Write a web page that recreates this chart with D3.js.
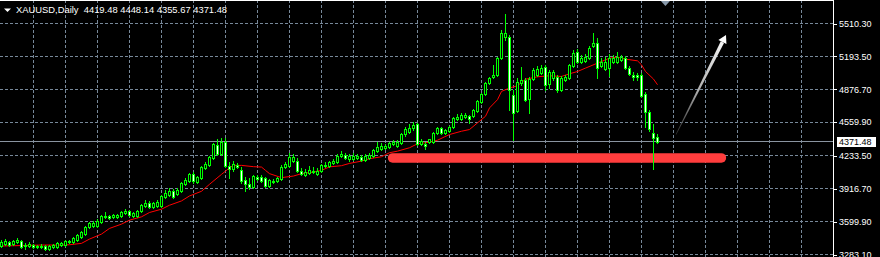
<!DOCTYPE html>
<html>
<head>
<meta charset="utf-8">
<title>XAUUSD Daily</title>
<script src="https://d3js.org/d3.v7.min.js"></script>
<style>
  body { margin: 0; background: #000; }
  svg { display: block; }
</style>
</head>
<body>
<script>

var width = 880, height = 257;
var plotRight = 833;   // price axis line

// daily bars, oldest first (prices)
var opens = [3364.7,3383.9,3403.1,3383.9,3403.1,3412.7,3364.7,3364.7,3374.3,3355.1,3364.7,3364.7,3335.9,3355.1,3355.1,3374.3,3374.3,3403.1,3403.1,3422.3,
  3451.1,3479.9,3547.1,3556.7,3556.7,3595.1,3643.1,3652.7,3643.1,3643.1,3652.7,3681.5,3700.7,3652.7,3652.7,3700.7,3748.7,3777.5,3739.1,3748.7,
  3748.7,3835.1,3854.3,3892.7,3863.9,3892.7,3959.9,3988.7,4055.9,3979.1,4017.5,4113.5,4142.3,4209.5,4334.3,4247.9,4363.1,4132.7,4103.9,4142.3,
  4094.3,3998.3,3959.9,3931.1,4027.1,4027.1,4017.5,3940.7,3988.7,3988.7,4007.9,4123.1,4132.7,4180.7,4180.7,4084.7,4046.3,4065.5,4075.1,4055.9,
  4084.7,4132.7,4132.7,4161.5,4171.1,4228.7,4238.3,4199.9,4199.9,4209.5,4219.1,4190.3,4209.5,4228.7,4276.7,4295.9,4305.5,4315.1,4343.9,4324.7,
  4353.5,4449.5,4468.7,4507.1,4545.5,4343.9,4343.9,4363.1,4363.1,4459.1,4507.1,4459.1,4478.3,4516.7,4593.5,4593.5,4612.7,4622.3,4622.3,4670.3,
  4756.7,4833.5,4939.1,4996.7,5015.9,5179.1,5380.7,5380.7,4823.9,4670.3,4939.1,4967.9,4785.5,4977.5,5015.9,5035.1,5092.7,4929.5,4987.1,4996.7,
  4871.9,4967.9,4987.1,5102.3,5236.7,5140.7,5150.3,5179.1,5294.3,5323.1,5102.3,5073.5,5083.1,5140.7,5140.7,5159.9,5179.1,5083.1,5015.9,5015.9,
  5015.9,4833.5,4660.7,4459.1,4419.48];
var highs = [3422.3,3431.9,3412.7,3422.3,3441.5,3422.3,3393.5,3403.1,3383.9,3374.3,3383.9,3374.3,3374.3,3383.9,3403.1,3403.1,3422.3,3422.3,3451.1,3479.9,
  3508.7,3556.7,3595.1,3604.7,3623.9,3662.3,3691.1,3662.3,3671.9,3671.9,3700.7,3719.9,3710.3,3691.1,3710.3,3767.9,3806.3,3796.7,3787.1,3806.3,
  3854.3,3902.3,3921.5,3911.9,3921.5,3979.1,4017.5,4065.5,4075.1,4036.7,4132.7,4171.1,4228.7,4353.5,4391.9,4411.1,4411.1,4171.1,4180.7,4161.5,
  4123.1,4027.1,4017.5,4046.3,4046.3,4046.3,4027.1,4007.9,4007.9,4027.1,4142.3,4171.1,4257.5,4247.9,4209.5,4113.5,4103.9,4132.7,4123.1,4113.5,
  4151.9,4171.1,4180.7,4199.9,4247.9,4276.7,4257.5,4247.9,4257.5,4247.9,4238.3,4247.9,4257.5,4295.9,4363.1,4353.5,4343.9,4363.1,4382.3,4382.3,
  4459.1,4516.7,4545.5,4564.7,4555.1,4391.9,4363.1,4401.5,4468.7,4516.7,4516.7,4497.5,4526.3,4612.7,4641.5,4651.1,4651.1,4631.9,4689.5,4775.9,
  4843.1,4948.7,4996.7,5111.9,5188.7,5447.9,5601.5,5399.9,4871.9,4987.1,5092.7,4987.1,4996.7,5083.1,5102.3,5111.9,5111.9,5063.9,5063.9,5015.9,
  5006.3,5015.9,5121.5,5255.9,5265.5,5207.9,5217.5,5294.3,5419.1,5371.1,5179.1,5188.7,5217.5,5207.9,5236.7,5207.9,5198.3,5102.3,5044.7,5035.1,
  5035.1,4852.7,4679.9,4545.5,4448.14];
var lows = [3355.1,3374.3,3364.7,3374.3,3393.5,3345.5,3335.9,3355.1,3345.5,3345.5,3345.5,3326.3,3326.3,3345.5,3345.5,3364.7,3364.7,3393.5,3393.5,3412.7,
  3441.5,3470.3,3537.5,3547.1,3547.1,3585.5,3633.5,3623.9,3633.5,3633.5,3643.1,3671.9,3652.7,3643.1,3643.1,3691.1,3739.1,3729.5,3729.5,3739.1,
  3739.1,3825.5,3844.7,3825.5,3854.3,3883.1,3950.3,3979.1,3969.5,3969.5,4007.9,4103.9,4132.7,4199.9,4238.3,4238.3,4123.1,4017.5,4084.7,4113.5,
  3969.5,3892.7,3911.9,3921.5,3998.3,3979.1,3931.1,3931.1,3969.5,3979.1,3998.3,4113.5,4123.1,4171.1,4075.1,4046.3,4036.7,4055.9,4065.5,4046.3,
  4075.1,4123.1,4123.1,4151.9,4161.5,4219.1,4199.9,4180.7,4190.3,4199.9,4180.7,4180.7,4199.9,4219.1,4267.1,4286.3,4295.9,4305.5,4334.3,4315.1,
  4343.9,4430.3,4459.1,4487.9,4334.3,4334.3,4295.9,4353.5,4353.5,4449.5,4449.5,4449.5,4468.7,4507.1,4583.9,4583.9,4603.1,4555.1,4612.7,4660.7,
  4747.1,4823.9,4929.5,4987.1,5006.3,5169.5,5351.9,4679.9,4382.3,4660.7,4919.9,4766.3,4651.1,4967.9,5006.3,5025.5,4871.9,4891.1,4967.9,4852.7,
  4862.3,4958.3,4977.5,5092.7,5131.1,5131.1,5140.7,5169.5,5284.7,4987.1,5092.7,5063.9,5006.3,5131.1,5131.1,5150.3,5073.5,5015.9,4967.9,4967.9,
  4804.7,4516.7,4478.3,4103.9,4355.67];
var closes = [3403.1,3412.7,3374.3,3412.7,3422.3,3355.1,3374.3,3383.9,3355.1,3364.7,3355.1,3335.9,3364.7,3374.3,3393.5,3393.5,3412.7,3412.7,3441.5,3470.3,
  3499.1,3547.1,3585.5,3585.5,3604.7,3652.7,3652.7,3633.5,3662.3,3662.3,3691.1,3700.7,3662.3,3681.5,3700.7,3758.3,3777.5,3739.1,3777.5,3787.1,
  3844.7,3873.5,3892.7,3835.1,3902.3,3969.5,3998.3,4055.9,3988.7,4027.1,4123.1,4151.9,4219.1,4343.9,4247.9,4363.1,4132.7,4103.9,4151.9,4123.1,
  3988.7,3959.9,3931.1,4036.7,4007.9,3988.7,3940.7,3998.3,3979.1,4017.5,4123.1,4151.9,4219.1,4219.1,4084.7,4055.9,4075.1,4094.3,4084.7,4084.7,
  4142.3,4142.3,4171.1,4180.7,4228.7,4247.9,4209.5,4228.7,4228.7,4228.7,4190.3,4228.7,4238.3,4286.3,4315.1,4324.7,4324.7,4353.5,4363.1,4363.1,
  4449.5,4497.5,4507.1,4535.9,4343.9,4372.7,4324.7,4391.9,4459.1,4507.1,4459.1,4487.9,4516.7,4603.1,4612.7,4631.9,4631.9,4593.5,4679.9,4766.3,
  4833.5,4939.1,4987.1,5015.9,5179.1,5419.1,5419.1,4871.9,4651.1,4948.7,4967.9,4775.9,4977.5,5063.9,5073.5,5083.1,4919.9,5044.7,5044.7,4871.9,
  4987.1,4996.7,5111.9,5227.1,5140.7,5179.1,5188.7,5275.1,5323.1,5083.1,5140.7,5140.7,5179.1,5179.1,5188.7,5188.7,5083.1,5025.5,4996.7,4996.7,
  4814.3,4660.7,4497.5,4411.1,4371.48];

// red moving average, read at these bar numbers
var maBars = [0,5,10,15,17,20,22,25,27,30,32,35,37,40,42,45,47,50,52,55,57,58,60,63,65,66,67,70,73,75,78,80,82,85,87,90,92,95,97,99,
  102,104,107,109,112,115,117,119,121,122,124,125,127,129,131,134,137,140,142,144,146,149,152,154,156,159,160,161,163,164];
var maValues = [3364.7,3369.5,3374.3,3374.3,3377.2,3390.6,3431.9,3479.9,3534.6,3575.9,3614.3,3646.2,3688.2,3719.9,3758.3,3799.6,3847.6,3892.7,3959.9,4055.9,
  4118.3,4142.3,4142.3,4129.8,4126.0,4094.3,4062.6,4024.2,4039.6,4062.6,4078.0,4094.3,4127.9,4139.4,4161.5,4183.6,4206.6,4225.8,4264.2,4279.6,
  4312.2,4350.6,4366.0,4385.2,4439.9,4471.6,4487.9,4552.2,4615.6,4696.2,4775.9,4855.6,4888.2,4910.3,4972.7,4996.7,5006.3,5000.0,5025.5,5047.6,
  5080.2,5128.2,5176.2,5185.8,5166.6,5150.3,5111.9,5047.6,4974.6,4919.9];

// price scale labels
var priceTicks = [5510.30, 5193.50, 4876.70, 4559.90, 4233.50, 3916.70, 3599.90, 3283.10];

// hand drawn objects: horizontal red level and white arrow
var levelBars = [97.9, 180.1], levelPrice = 4214;
var arrowBars = [168.75, 181.25], arrowPrices = [4440, 5400];
var shiftBar = 166.1;

var titleText = "XAUUSD,Daily  4419.48 4448.14 4355.67 4371.48";

var n = closes.length;
var x = d3.scaleLinear().domain([0, n - 1]).range([1, 1 + 4 * (n - 1)]);
// top and bottom labels sit on grid rows 23 and 254
var y = d3.scaleLinear().domain([5510.30, 3283.10]).range([23.5, 254.5]);

var svg = d3.select("body").append("svg")
    .attr("width", width)
    .attr("height", height)
    .style("font-family", "'Liberation Sans', Arial, sans-serif");

svg.append("rect").attr("width", width).attr("height", height).attr("fill", "#000");

// grid
var grid = svg.append("g")
    .attr("stroke", "#778899")
    .attr("stroke-dasharray", "3,2")
    .attr("shape-rendering", "crispEdges");

grid.selectAll("line.h")
    .data(priceTicks)
  .enter().append("line")
    .attr("class", "h")
    .attr("x1", 0).attr("x2", plotRight)
    .attr("y1", function(d) { return Math.floor(y(d)) + 0.5; })
    .attr("y2", function(d) { return Math.floor(y(d)) + 0.5; });

grid.selectAll("line.v")
    .data(d3.range(8, 201, 8))
  .enter().append("line")
    .attr("class", "v")
    .attr("y1", 0).attr("y2", height)
    .attr("x1", function(d) { return x(d) + 0.5; })
    .attr("x2", function(d) { return x(d) + 0.5; });

// bid line
var last = closes[n - 1];
var bidY = Math.floor(y(last)) + 0.5;
svg.append("line")
    .attr("x1", 0).attr("x2", plotRight)
    .attr("y1", bidY).attr("y2", bidY)
    .attr("stroke", "#8a94a0")
    .attr("shape-rendering", "crispEdges");

// level line
svg.append("line")
    .attr("x1", x(levelBars[0])).attr("x2", x(levelBars[1]))
    .attr("y1", y(levelPrice)).attr("y2", y(levelPrice))
    .attr("stroke", "#ff3d3d")
    .attr("stroke-width", 9.5)
    .attr("stroke-linecap", "round");

// moving average
var maLine = d3.line()
    .x(function(d, i) { return x(maBars[i]) + 0.5; })
    .y(function(d) { return y(d); });

svg.append("path")
    .datum(maValues)
    .attr("d", maLine)
    .attr("fill", "none")
    .attr("stroke", "#ff0000")
    .attr("stroke-width", 1);

// candles
var bars = svg.append("g").attr("shape-rendering", "crispEdges");
var idx = d3.range(n);

bars.selectAll("line")
    .data(idx)
  .enter().append("line")
    .attr("x1", function(i) { return Math.round(x(i)) + 0.5; })
    .attr("x2", function(i) { return Math.round(x(i)) + 0.5; })
    .attr("y1", function(i) { return Math.round(y(highs[i])); })
    .attr("y2", function(i) { return Math.round(y(lows[i])) + 1; })
    .attr("stroke", "#00ff00");

bars.selectAll("rect")
    .data(idx)
  .enter().append("rect")
    .attr("x", function(i) { return Math.round(x(i)) - 0.5; })
    .attr("width", 2)
    .attr("y", function(i) { return Math.round(y(Math.max(opens[i], closes[i]))) + 0.5; })
    .attr("height", function(i) {
      return Math.max(0.01, Math.round(y(Math.min(opens[i], closes[i]))) - Math.round(y(Math.max(opens[i], closes[i]))));
    })
    .attr("fill", function(i) { return closes[i] >= opens[i] ? "#000" : "#fff"; })
    .attr("stroke", "#00ff00");

// arrow
var p0 = [x(arrowBars[0]), y(arrowPrices[0])],
    p1 = [x(arrowBars[1]), y(arrowPrices[1])];
var dx = p1[0] - p0[0], dy = p1[1] - p0[1], len = Math.sqrt(dx * dx + dy * dy);
var ux = dx / len, uy = dy / len, nx = -uy, ny = ux;
var headLen = 8, headW = 4.5;
var base = [p1[0] - ux * headLen, p1[1] - uy * headLen];

var grad = svg.append("defs").append("linearGradient")
    .attr("id", "arrowGrad")
    .attr("gradientUnits", "userSpaceOnUse")
    .attr("x1", p0[0]).attr("y1", p0[1])
    .attr("x2", p1[0]).attr("y2", p1[1]);
grad.append("stop").attr("offset", 0).attr("stop-color", "#2a2a2a");
grad.append("stop").attr("offset", 0.45).attr("stop-color", "#b0b0b0");
grad.append("stop").attr("offset", 1).attr("stop-color", "#ffffff");

var shaft = [
  [p0[0] + nx * 0.3, p0[1] + ny * 0.3],
  [base[0] + nx * 1.8, base[1] + ny * 1.8],
  [base[0] - nx * 1.8, base[1] - ny * 1.8],
  [p0[0] - nx * 0.3, p0[1] - ny * 0.3]
];
svg.append("path")
    .attr("d", "M" + shaft.join("L") + "Z")
    .attr("fill", "url(#arrowGrad)");

var head = [
  p1,
  [base[0] + nx * headW, base[1] + ny * headW],
  [base[0] - nx * headW, base[1] - ny * headW]
];
svg.append("path")
    .attr("d", "M" + head.join("L") + "Z")
    .attr("fill", "#fff");

// frame
var frame = svg.append("g").attr("stroke", "#fff").attr("shape-rendering", "crispEdges");
frame.append("line").attr("x1", 0).attr("x2", plotRight + 0.5).attr("y1", 0.5).attr("y2", 0.5);
frame.append("line").attr("x1", plotRight + 0.5).attr("x2", plotRight + 0.5).attr("y1", 0).attr("y2", height);

// chart shift marker
var sx = x(shiftBar);
svg.append("path")
    .attr("d", "M" + (sx - 4.5) + ",1L" + (sx + 4.5) + ",1L" + sx + ",6Z")
    .attr("fill", "#8899aa");

// price axis
var axis = svg.append("g")
    .attr("transform", "translate(" + plotRight + ",0)")
    .call(d3.axisRight(y)
      .tickValues(priceTicks)
      .tickFormat(d3.format(".2f"))
      .tickSize(4)
      .tickPadding(2));
axis.select(".domain").remove();
axis.selectAll("line").attr("stroke", "#fff").attr("shape-rendering", "crispEdges");
axis.selectAll("text")
    .attr("fill", "#fff")
    .style("font-family", "'Liberation Sans', Arial, sans-serif")
    .style("font-size", "9px");

// bid label
svg.append("rect")
    .attr("x", plotRight + 4).attr("y", Math.round(y(last)) - 5)
    .attr("width", 39).attr("height", 10)
    .attr("fill", "#fff");
svg.append("text")
    .attr("x", plotRight + 6).attr("y", y(last))
    .attr("dy", "0.34em")
    .attr("fill", "#000")
    .style("font-size", "9px")
    .text(d3.format(".2f")(last));

// title
svg.append("path").attr("d", "M4,8.5L11,8.5L7.5,12Z").attr("fill", "#fff");
svg.append("text")
    .attr("x", 16).attr("y", 13)
    .attr("fill", "#fff")
    .style("font-size", "9.4px")
    .attr("xml:space", "preserve")
    .style("white-space", "pre")
    .text(titleText);

</script>
</body>
</html>
